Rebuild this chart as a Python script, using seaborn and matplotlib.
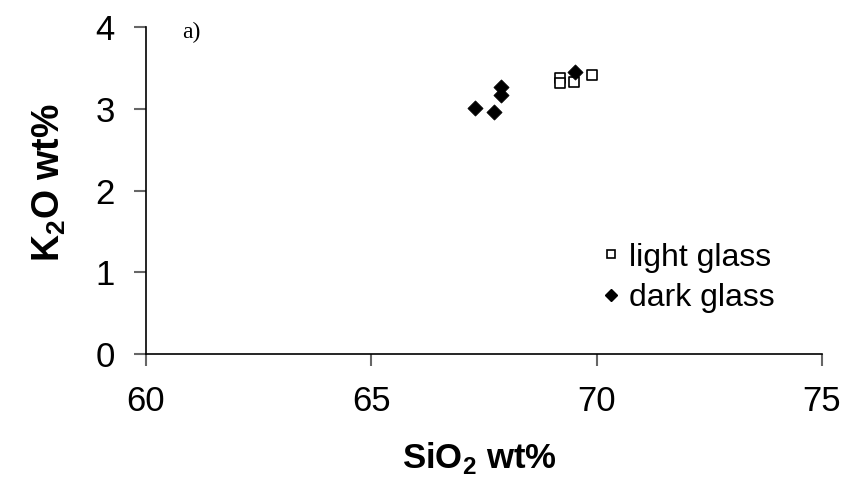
import matplotlib
matplotlib.use("Agg")
import matplotlib.pyplot as plt
import seaborn as sns
import pandas as pd
from matplotlib.lines import Line2D

# SiO2 and K2O compositions (wt%) of the two glass types
light_sio2 = [69.18, 69.18, 69.50, 69.89]
light_k2o = [3.38, 3.32, 3.33, 3.41]
dark_sio2 = [67.29, 67.72, 67.88, 67.88, 69.53]
dark_k2o = [3.01, 2.96, 3.26, 3.17, 3.45]

x_ticks = [60, 65, 70, 75]
y_ticks = [0, 1, 2, 3, 4]

df = pd.DataFrame({
    "SiO2": light_sio2 + dark_sio2,
    "K2O": light_k2o + dark_k2o,
    "glass": ["light glass"] * len(light_sio2) + ["dark glass"] * len(dark_sio2),
})

sns.set_theme(style="white")
plt.rcParams["font.family"] = ["Liberation Sans", "DejaVu Sans"]
plt.rcParams["text.color"] = "black"
plt.rcParams["axes.labelcolor"] = "black"
plt.rcParams["mathtext.fontset"] = "custom"
plt.rcParams["mathtext.rm"] = "Liberation Sans"
plt.rcParams["mathtext.bf"] = "Liberation Sans:bold"

fig = plt.figure(figsize=(8.45, 4.78), dpi=100)
ax = fig.add_axes([146 / 845, 1 - 354 / 478, (822 - 146) / 845, (354 - 27) / 478])

light = df[df["glass"] == "light glass"]
dark = df[df["glass"] == "dark glass"]
sns.scatterplot(data=light, x="SiO2", y="K2O", marker="s", s=55,
                facecolor="white", edgecolor="black", linewidth=1.2, ax=ax, zorder=3)
sns.scatterplot(data=dark, x="SiO2", y="K2O", marker="D", s=60,
                color="black", edgecolor="black", linewidth=0.5, ax=ax, zorder=4)

ax.set_xlim(60, 75)
ax.set_ylim(0, 4)
ax.set_xticks(x_ticks)
ax.set_yticks(y_ticks)
ax.tick_params(axis="both", which="major", bottom=True, left=True,
               labelsize=25, labelcolor="black", color="#666666",
               direction="out", length=8.6, width=1.5, pad=14)

for side in ("top", "right"):
    ax.spines[side].set_visible(False)
for side in ("left", "bottom"):
    ax.spines[side].set_color("black")
    ax.spines[side].set_linewidth(1.2)

ax.set_xlabel(r"SiO$_\mathbf{2}$ wt%", fontsize=25, fontweight="bold")
ax.set_ylabel(r"K$_\mathbf{2}$O wt%", fontsize=27, fontweight="bold")
ax.xaxis.set_label_coords(0.494, -0.262)
ax.yaxis.set_label_coords(-0.115, 0.523)

ax.text(0.053, 1.015, "a)", transform=ax.transAxes, fontsize=17,
        family="Liberation Serif", va="top", ha="left")

handles = [
    Line2D([], [], linestyle="none", marker="s", markersize=6,
           markerfacecolor="white", markeredgecolor="black", markeredgewidth=1.2),
    Line2D([], [], linestyle="none", marker="D", markersize=6,
           markerfacecolor="black", markeredgecolor="black"),
]
ax.legend(handles, ["light glass", "dark glass"], loc="lower left",
          bbox_to_anchor=(0.66, 0.085), frameon=False, fontsize=23,
          handlelength=0.4, handletextpad=0.35, labelspacing=0.34,
          borderaxespad=0)

fig.savefig("out.png", dpi=100)
